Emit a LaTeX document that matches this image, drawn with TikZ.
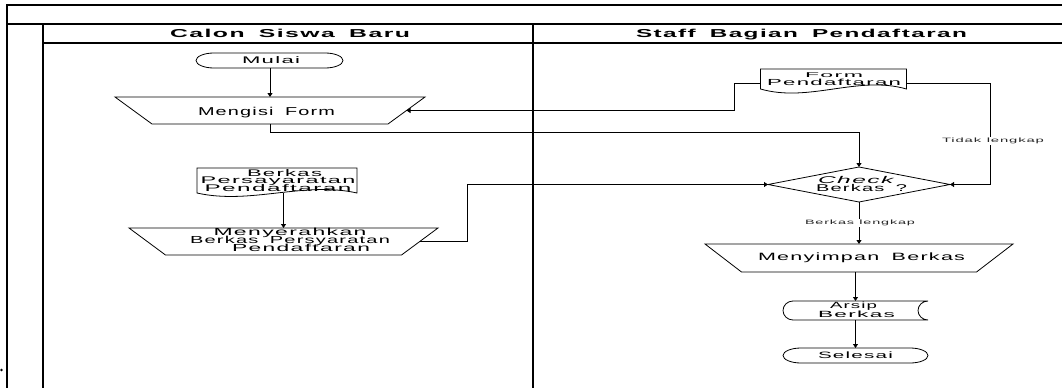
\documentclass[tikz,border=0pt]{standalone}
\usepackage{fontspec}
\setmainfont[LetterSpace=6,WordSpace=1.7]{Liberation Sans}
\newfontfamily\lblfont[LetterSpace=6,WordSpace=1.1]{Liberation Sans}
\usepackage{graphicx}
\usetikzlibrary{calc,shapes.geometric,arrows.meta}
\newlength\fitlen
\newcommand\fitx[2]{\settowidth\fitlen{#2}\pgfmathsetmacro\fitsc{#1/\fitlen}\scalebox{\fitsc}[1]{#2}}
\newcommand\fsz[2]{\fontsize{#1}{#2}\selectfont\lineskiplimit=-100pt\lineskip=0pt}
% terminal: node, x radius, y radius
\newcommand\termpath[3]{%
  \draw[shp] ($(#1.north west)+(#2,0)$) -- ($(#1.north east)+(-#2,0)$)
    .. controls ($(#1.north east)+({-#2*0.4477},0)$) and ($(#1.east)+(0,{-#3*0.5523})$) .. (#1.east)
    .. controls ($(#1.east)+(0,{#3*0.5523})$) and ($(#1.south east)+({-#2*0.4477},0)$) .. ($(#1.south east)+(-#2,0)$)
    -- ($(#1.south west)+(#2,0)$)
    .. controls ($(#1.south west)+({#2*0.4477},0)$) and ($(#1.west)+(0,{#3*0.5523})$) .. (#1.west)
    .. controls ($(#1.west)+(0,{-#3*0.5523})$) and ($(#1.north west)+({#2*0.4477},0)$) .. cycle;}
% document: node, wave control offset
\newcommand\docpath[2]{%
  \draw[shp] (#1.south west) -- (#1.north west) -- (#1.north east) -- (#1.south east)
    .. controls ($(#1.south east)!0.333!(#1.south west)+(0,-#2)$) and ($(#1.south east)!0.667!(#1.south west)+(0,#2)$) .. (#1.south west) -- cycle;}
% stored data: node, depth, half height
\newcommand\storepath[3]{%
  \draw[shp] ($(#1.north west)+(#2,0)$) -- (#1.north east)
    .. controls ($(#1.north east)+({-#2*0.5523},0)$) and ($(#1.east)+({-#2},{-#3*0.5523})$) .. ($(#1.east)+(-#2,0)$)
    .. controls ($(#1.east)+({-#2},{#3*0.5523})$) and ($(#1.south east)+({-#2*0.5523},0)$) .. (#1.south east)
    -- ($(#1.south west)+(#2,0)$)
    .. controls ($(#1.south west)+({#2*0.4477},0)$) and ($(#1.west)+(0,{#3*0.5523})$) .. (#1.west)
    .. controls ($(#1.west)+(0,{-#3*0.5523})$) and ($(#1.north west)+({#2*0.4477},0)$) .. cycle;}
% manual operation (wide top): node, slant offset; defines node-e and node-w on the slants
\newcommand\trappath[2]{%
  \draw[shp] (#1.north west) -- (#1.north east) -- ($(#1.south east)+(-#2,0)$) -- ($(#1.south west)+(#2,0)$) -- cycle;
  \coordinate (#1-e) at ($(#1.east)+({-#2/2},0)$);
  \coordinate (#1-w) at ($(#1.west)+({#2/2},0)$);}
\tikzset{
  shp/.style={draw=black,line width=0.8pt},
  frameline/.style={draw=black,line width=1.3pt},
  conn/.style={draw=black,line width=0.8pt,-{Triangle[width=5pt,length=4pt]}},
  box/.style={draw=none,inner sep=0pt,outer sep=0pt,minimum width=#1},
  txt/.style={inner sep=0pt,outer sep=0pt,align=center,text=black},
  lbl/.style={inner sep=1pt,outer sep=0pt,fill=white,text=black!85,font=\lblfont\fsz{6.3}{6.3}},
}
\begin{document}
\begin{tikzpicture}[x=1pt,y=-1pt]
\useasboundingbox (0,0) rectangle (1062,388);
% frame and lanes
\draw[frameline] (1062,5) -- (7,5) -- (7,388);
\draw[frameline] (7,24) -- (1062,24);
\draw[frameline] (43,43) -- (1062,43);
\draw[frameline] (43,24) -- (43,388);
\draw[frameline] (533,24) -- (533,388);
\fill (1.5,370) circle[radius=1.3pt];
\node[txt,font=\fsz{11.5}{11.5}\bfseries] (hcalon) at (290,33.5) {\fitx{240}{Calon Siswa Baru}};
\node[txt,font=\fsz{11.5}{11.5}\bfseries] (hstaff) at (801.5,34.7) {\fitx{331}{Staff Bagian Pendaftaran}};
% shapes
\node[box=147pt,minimum height=15pt] (mulai) at (269.5,60.5) {};
\termpath{mulai}{18}{7.5}
\node[box=310pt,minimum height=27pt] (mengisi) at (270,110.5) {};
\trappath{mengisi}{37}
\node[box=146pt,minimum height=20pt] (formdoc) at (833.5,79) {};
\docpath{formdoc}{14}
\coordinate (formdoc-w) at ($(formdoc.west)+(0,4)$);
\coordinate (formdoc-e) at ($(formdoc.east)+(0,4)$);
\node[diamond,shp,inner sep=0pt,outer sep=0pt,minimum width=182pt,minimum height=35pt] (check) at (859,184.5) {};
\node[box=160pt,minimum height=25pt] (berkasdoc) at (277,180.5) {};
\docpath{berkasdoc}{12}
\node[box=309pt,minimum height=27pt] (meny) at (283.5,241.5) {};
\trappath{meny}{36.5}
\node[box=308pt,minimum height=28pt] (menyimpan) at (859,258) {};
\trappath{menyimpan}{36.5}
\node[box=145pt,minimum height=19pt] (arsip) at (855.5,310.5) {};
\storepath{arsip}{10}{9.5}
\node[box=145pt,minimum height=15pt] (selesai) at (855.5,355.5) {};
\termpath{selesai}{18}{7.5}
% texts
\node[txt,font=\fsz{9.6}{9.6}] (tmulai) at (271,60.5) {\fitx{58}{Mulai}};
\node[txt,font=\fsz{11.4}{11.4}] (tmengisi) at (266.5,112.2) {\fitx{137}{Mengisi Form}};
\node[txt,font=\fsz{8.8}{7.7}] (tform) at (834,79.3) {{\fontsize{7}{7.7}\selectfont\fitx{58}{Form}}\\\fitx{134}{Pendaftaran}};
\node[txt,font=\fsz{9.8}{7.8}] (tcheck) at (861.5,184.3) {\fitx{78}{\textit{Check}}\hspace*{9pt}\\\fitx{91}{Berkas ?}};
\node[txt,font=\fsz{9.6}{7.8}] (tberkas) at (278,180.5) {\hspace*{13pt}\fitx{75}{Berkas}\\\fitx{155}{Persayaratan}\\\fitx{147}{Pendaftaran}};
\node[txt,font=\fsz{10.2}{8.3}] (tmeny) at (290,240) {\fitx{153}{Menyerahkan}\\\fitx{200}{Berkas Persyaratan}\\\hspace*{22pt}\fitx{138}{Pendaftaran}};
\node[txt,font=\fsz{10.6}{10.6}] (tmenyimpan) at (861.5,257.9) {\fitx{207}{Menyimpan Berkas}};
\node[txt,font=\fsz{9}{8.7}] (tarsip) at (856.5,309.8) {\fitx{47}{Arsip}\hspace*{6pt}\\\fitx{77}{Berkas}};
\node[txt,font=\fsz{9.2}{9.2}] (tselesai) at (855.5,355.7) {\fitx{75}{Selesai}};
% connectors
\coordinate (lcorner) at (734,0);
\coordinate (rcorner) at (990,0);
\coordinate (mcorner) at (467,0);
\draw[conn] (mengisi.north |- mulai.south) -- (mengisi.north);
\draw[conn] (formdoc-w) -- (formdoc-w -| lcorner) -- (lcorner |- mengisi-e) -- (mengisi-e);
\draw[conn] (mengisi.south) -- ++(0,8) -| (check.north);
\draw[conn] (formdoc-e) -- (formdoc-e -| rcorner) -- (rcorner |- check.east) -- (check.east);
\draw[conn] (meny.north |- berkasdoc.south) -- (meny.north);
\draw[conn] (meny-e) -- (meny-e -| mcorner) -- (mcorner |- check.west) -- (check.west);
\draw[conn] (check.south) -- (menyimpan.north);
\draw[conn] (arsip.north |- menyimpan.south) -- (arsip.north);
\draw[conn] (arsip.south) -- (selesai.north);
% connector labels
\node[lbl] (ltidak) at (993,140.6) {\fitx{102}{Tidak lengkap}};
\node[lbl] (llengkap) at (860,222.6) {\fitx{110}{Berkas lengkap}};
\end{tikzpicture}
\end{document}
